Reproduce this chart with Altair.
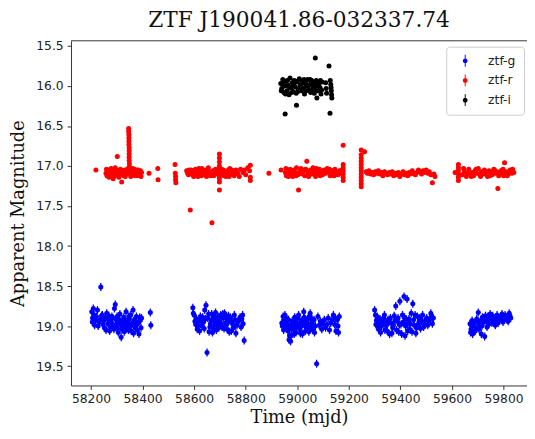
import altair as alt
import pandas as pd

TITLE = "ZTF J190041.86-032337.74"
BANDS = ["ztf-g", "ztf-r", "ztf-i"]
COLORS = ["#0000ff", "#ff0000", "#000000"]
X_TICKS = [58200, 58400, 58600, 58800, 59000, 59200, 59400, 59600, 59800]
Y_TICKS = [15.5, 16.0, 16.5, 17.0, 17.5, 18.0, 18.5, 19.0, 19.5]

# ---- ztf-g ----
G_MJD = [58203, 58206, 58209, 58212, 58218, 58225, 58232, 58238, 58241, 58247, 58252, 58256, 58261, 58266,
         58272, 58277, 58281, 58286, 58291, 58294, 58298, 58303, 58308, 58312, 58317, 58322, 58327, 58331,
         58336, 58340, 58345, 58349, 58354, 58358, 58363, 58367, 58372, 58376, 58381, 58386, 58391, 58396,
         58430, 58432,
         58595, 58600, 58606, 58612, 58618, 58624, 58630, 58636, 58641, 58646, 58650, 58653, 58658, 58663,
         58668, 58673, 58678, 58683, 58688, 58693, 58698, 58703, 58708, 58713, 58718, 58723, 58728, 58733,
         58738, 58744, 58750, 58756, 58762, 58770, 58778, 58785, 58790, 58794,
         58940, 58945, 58950, 58955, 58960, 58964, 58968, 58972, 58976, 58980, 58985, 58990, 58995, 59000,
         59005, 59010, 59015, 59020, 59025, 59030, 59035, 59040, 59045, 59050, 59055, 59060, 59065, 59070,
         59075, 59080, 59090, 59100, 59110, 59120, 59130, 59140, 59145, 59150, 59155, 59160, 59163,
         59300, 59303, 59307, 59312, 59318, 59323, 59330, 59335, 59340, 59346, 59352, 59358, 59364, 59370,
         59376, 59382, 59388, 59393, 59398, 59402, 59408, 59414, 59418, 59422, 59426, 59430, 59436, 59442,
         59448, 59454, 59460, 59466, 59472, 59478, 59486, 59494, 59502, 59510, 59518, 59524, 59528,
         59670, 59674, 59678, 59682, 59690, 59696, 59702, 59708, 59714, 59718, 59724, 59730, 59736, 59742,
         59748, 59755, 59762, 59768, 59775, 59782, 59790, 59798, 59806, 59814, 59822, 59828]
G_MAG = [18.82, 18.90, 18.78, 18.86, 18.93, 18.80, 18.95, 18.51, 18.87, 18.98, 19.02, 18.90, 18.84, 18.97,
         19.06, 18.93, 18.88, 18.99, 18.78, 18.73, 18.92, 19.03, 18.96, 18.85, 19.14, 18.94, 18.89, 19.01,
         18.82, 18.97, 19.05, 18.91, 18.86, 18.99, 18.80, 18.94, 19.02, 18.88, 18.97, 19.10, 18.93, 18.90,
         18.83, 18.99,
         18.77, 18.86, 18.98, 19.04, 18.93, 18.88, 19.00, 18.95, 18.80, 18.74, 19.33, 18.90, 19.07, 18.97,
         18.85, 19.02, 18.92, 18.83, 18.99, 18.88, 18.95, 18.86, 19.01, 18.90, 18.84, 18.96, 19.04, 18.87,
         18.93, 19.06, 18.98, 18.86, 19.09, 18.94, 18.89, 18.91, 18.97, 19.18,
         18.96, 18.88, 18.93, 19.01, 18.91, 19.06, 19.17, 18.99, 19.12, 18.94, 19.03, 18.89, 19.08, 18.97,
         18.86, 19.04, 18.93, 19.10, 18.82, 18.99, 19.02, 18.91, 19.07, 18.84, 18.96, 19.05, 18.92, 19.00,
         19.47, 18.88, 18.94, 18.97, 19.02, 18.90, 18.96, 18.86, 18.98, 19.06, 18.92, 19.08, 18.88,
         18.80, 18.86, 18.93, 19.00, 18.95, 19.08, 18.97, 18.90, 19.05, 18.99, 18.92, 19.10, 18.96, 19.02,
         18.87, 18.75, 18.94, 19.07, 18.69, 18.98, 18.86, 18.63, 19.12, 18.91, 18.66, 18.96, 19.04, 18.84,
         18.72, 18.99, 19.09, 18.88, 18.95, 19.03, 18.86, 18.98, 18.90, 18.94, 18.84, 18.97, 18.90,
         18.97, 19.04, 18.93, 19.00, 19.06, 18.91, 18.83, 18.98, 19.10, 18.89, 18.95, 18.87, 19.01, 18.92,
         18.85, 18.96, 18.90, 18.99, 18.86, 18.93, 18.88, 18.95, 18.86, 18.92, 18.84, 18.90]
G_MJD_2 = [58205, 58214, 58221, 58228, 58235, 58244, 58250, 58258, 58264, 58269, 58275, 58279, 58284, 58289,
           58296, 58301, 58306, 58310, 58315, 58320, 58325, 58329, 58333, 58338, 58343, 58347, 58352, 58356,
           58361, 58365, 58370, 58374, 58379, 58384, 58389, 58394,
           58597, 58603, 58609, 58615, 58621, 58627, 58633, 58639, 58644, 58656, 58661, 58666, 58671, 58676,
           58681, 58686, 58691, 58696, 58701, 58706, 58711, 58716, 58721, 58726, 58731, 58736, 58741, 58747,
           58753, 58759, 58766, 58774, 58782, 58788,
           58942, 58947, 58952, 58957, 58962, 58966, 58970, 58974, 58978, 58983, 58988, 58992, 58997, 59002,
           59007, 59012, 59017, 59022, 59027, 59032, 59037, 59042, 59047, 59052, 59057, 59062, 59067, 59085,
           59095, 59105, 59115, 59125, 59135, 59148, 59158,
           59305, 59310, 59315, 59321, 59327, 59333, 59338, 59343, 59349, 59355, 59361, 59367, 59373, 59379,
           59385, 59391, 59396, 59405, 59411, 59416, 59420, 59428, 59433, 59439, 59445, 59451, 59457, 59463,
           59469, 59475, 59482, 59490, 59498, 59506, 59514, 59521,
           59672, 59676, 59680, 59686, 59693, 59699, 59705, 59711, 59716, 59721, 59727, 59733, 59739, 59745,
           59751, 59758, 59765, 59771, 59779, 59786, 59794, 59802, 59810, 59818, 59825]
G_MAG_2 = [18.95, 18.99, 18.88, 19.00, 18.92, 18.86, 18.93, 19.05, 18.91, 18.87, 19.01, 18.97, 18.90, 19.04,
           18.98, 18.88, 19.08, 18.92, 18.98, 19.04, 18.97, 19.07, 18.92, 19.03, 18.95, 18.88, 19.00, 19.06,
           18.96, 19.09, 18.91, 18.99, 19.05, 18.95, 18.89, 19.02,
           18.84, 18.94, 18.91, 18.99, 19.06, 18.94, 18.89, 19.03, 18.91, 18.85, 19.01, 18.93, 19.08, 18.88,
           18.97, 19.05, 18.93, 19.02, 18.91, 18.97, 18.85, 19.03, 18.90, 18.98, 18.93, 19.07, 18.89, 18.95,
           19.02, 18.92, 18.99, 18.93, 19.01, 18.86,
           19.00, 19.05, 18.86, 18.97, 19.03, 18.92, 19.12, 19.19, 19.04, 18.98, 19.10, 18.95, 19.01, 18.90,
           18.98, 19.09, 19.00, 18.95, 18.89, 19.06, 18.93, 18.98, 18.88, 19.02, 18.91, 18.99, 19.08, 18.99,
           19.04, 18.92, 18.98, 19.05, 18.92, 18.90, 19.00,
           18.98, 18.88, 19.04, 18.91, 19.00, 18.94, 18.86, 18.97, 19.06, 18.95, 18.90, 19.09, 18.99, 18.93,
           19.05, 18.90, 18.98, 19.10, 18.95, 18.89, 19.00, 19.06, 18.91, 18.97, 19.07, 18.92, 18.86, 19.02,
           18.98, 18.90, 18.94, 19.01, 18.92, 18.99, 18.91, 18.88,
           19.08, 18.99, 19.10, 18.96, 19.02, 18.95, 19.04, 18.93, 19.00, 18.90, 19.13, 18.94, 18.88, 18.97,
           18.91, 18.87, 18.94, 18.89, 18.96, 18.90, 18.85, 18.92, 18.89, 18.94, 18.87]
G_ERR = 0.05

# ---- ztf-r ----
R_MJD = [58219,
         58258, 58262, 58266, 58270, 58274, 58278, 58282, 58286, 58290, 58294, 58298, 58302, 58306, 58310,
         58314, 58319, 58323, 58327, 58331, 58335, 58339, 58343,
         58346, 58346, 58347, 58347, 58347, 58347, 58348, 58348, 58348, 58348, 58348, 58349, 58349, 58349, 58349,
         58352, 58356, 58360, 58364, 58368, 58372, 58376, 58380, 58384, 58388, 58392, 58396,
         58425, 58459, 58460, 58526, 58527, 58528, 58528, 58529,
         58571, 58575, 58580, 58585, 58590, 58595, 58600, 58605, 58610, 58615, 58620, 58625, 58630, 58635,
         58640, 58645, 58650, 58655, 58660, 58665, 58669, 58673, 58678, 58683, 58688,
         58698, 58698, 58698, 58698, 58698, 58698, 58698, 58698, 58698, 58698,
         58703, 58708, 58713, 58718, 58723, 58728, 58733, 58738, 58743, 58748, 58755, 58762, 58770, 58780,
         58790, 58800, 58808, 58815, 58818, 58818, 58818,
         58890, 58937,
         58954, 58958, 58963, 58968, 58972, 58977, 58982, 58987, 58992, 58997, 59002, 59005, 59009, 59014,
         59019, 59024, 59029, 59033, 59037, 59041, 59046, 59051, 59056, 59061, 59066, 59071, 59076, 59081,
         59086, 59092, 59098, 59104, 59110, 59116, 59122, 59128, 59134, 59140, 59146, 59152, 59158, 59164,
         59170, 59174,
         59178, 59178, 59178, 59178, 59178, 59178, 59178,
         59248, 59248, 59248, 59248, 59248, 59248, 59248, 59248, 59248, 59248, 59248, 59248, 59261,
         59267, 59272, 59278, 59284, 59290, 59296, 59302, 59308, 59314, 59320, 59326, 59332, 59338, 59344,
         59350, 59356, 59362, 59368, 59374, 59380, 59386, 59392, 59398, 59404, 59410, 59416, 59422, 59428,
         59434, 59440, 59446, 59452, 59458, 59464, 59470, 59476, 59482, 59488, 59494, 59500, 59506, 59512,
         59518, 59524, 59530, 59534,
         59612, 59625, 59625, 59625, 59625, 59625, 59625,
         59640, 59648, 59656, 59665, 59672, 59678, 59684, 59690, 59696, 59702, 59708, 59714, 59720, 59726,
         59732, 59738, 59744, 59750, 59756, 59762, 59768, 59774, 59778, 59784, 59790, 59796, 59800, 59804,
         59810, 59818, 59825, 59832, 59840]
R_MAG = [17.05,
         17.09, 17.12, 17.05, 17.14, 17.08, 17.03, 17.10, 17.16, 17.07, 17.02, 17.11, 16.88, 17.06, 17.09,
         17.04, 17.20, 17.08, 17.12, 17.05, 17.10, 17.07, 17.03,
         16.53, 16.57, 16.61, 16.65, 16.69, 16.73, 16.77, 16.81, 16.85, 16.89, 16.93, 16.97, 17.01, 17.05, 17.09,
         17.08, 17.11, 17.06, 17.09, 17.04, 17.10, 17.07, 17.12, 17.05, 17.09, 17.06, 17.08,
         17.09, 17.03, 17.17, 16.98, 17.09, 17.13, 17.17, 17.21,
         17.06, 17.09, 17.05, 17.55, 17.10, 17.07, 17.12, 17.04, 17.08, 17.13, 17.06, 17.10, 17.03, 17.08,
         17.11, 17.05, 17.09, 17.02, 17.07, 17.12, 17.71, 17.06, 17.09, 17.04, 17.10,
         16.85, 16.90, 16.95, 17.00, 17.04, 17.08, 17.12, 17.16, 17.20, 17.30,
         17.07, 17.11, 17.05, 17.09, 17.13, 17.06, 17.08, 17.03, 17.10, 17.07, 17.12, 17.05, 17.09, 17.04,
         17.08, 17.11, 17.02, 17.06, 16.99, 17.14, 17.18,
         17.09, 17.05,
         17.08, 17.12, 17.06, 17.10, 17.04, 17.09, 17.13, 17.05, 17.08, 17.02, 17.11, 17.30, 17.07, 17.03,
         17.10, 17.06, 17.12, 17.04, 16.94, 17.08, 17.11, 17.05, 17.09, 17.02, 17.07, 17.13, 17.06, 17.10,
         17.04, 17.08, 17.11, 17.05, 17.09, 17.03, 17.07, 17.12, 17.06, 17.09, 17.04, 17.08, 17.11, 17.06,
         17.09, 17.05,
         16.74, 16.98, 17.02, 17.06, 17.10, 17.14, 17.18,
         16.80, 16.86, 16.90, 16.94, 16.98, 17.02, 17.06, 17.10, 17.14, 17.18, 17.22, 17.26, 16.82,
         17.07, 17.09, 17.06, 17.10, 17.08, 17.11, 17.07, 17.09, 17.06, 17.10, 17.08, 17.12, 17.07, 17.09,
         17.11, 17.08, 17.10, 17.07, 17.12, 17.09, 17.11, 17.08, 17.13, 17.10, 17.07, 17.11, 17.09, 17.12,
         17.08, 17.10, 17.06, 17.09, 17.11, 17.08, 17.05, 17.07, 17.10, 17.06, 17.08, 17.05, 17.09, 17.07,
         17.11, 17.21, 17.10, 17.13,
         17.08, 16.98, 17.02, 17.06, 17.10, 17.14, 17.18,
         17.11, 17.07, 17.13, 17.04, 17.10, 17.08, 17.12, 17.06, 17.09, 17.03, 17.11, 17.07, 17.10, 17.05,
         17.09, 17.13, 17.06, 17.08, 17.11, 17.04, 17.09, 17.07, 17.28, 17.10, 17.06, 17.09, 17.12, 16.96,
         17.07, 17.10, 17.05, 17.09, 17.08]
R_MJD_2 = [58260, 58268, 58276, 58284, 58292, 58300, 58308, 58316, 58325, 58333, 58341, 58354, 58362, 58370,
           58378, 58386, 58394,
           58578, 58588, 58598, 58608, 58618, 58628, 58638, 58648, 58658, 58676, 58686, 58706, 58716, 58726,
           58736, 58746, 58758, 58775, 58795,
           58956, 58966, 58980, 58995, 59012, 59027, 59044, 59058, 59074, 59089, 59107, 59125, 59143, 59161,
           59645, 59660, 59675, 59693, 59711, 59729, 59747, 59765, 59781, 59798, 59815, 59835]
R_MAG_2 = [17.04, 17.11, 17.13, 17.06, 17.12, 17.05, 17.14, 17.10, 17.06, 17.13, 17.09, 17.13, 17.03, 17.12,
           17.05, 17.10, 17.13,
           17.11, 17.05, 17.13, 17.09, 17.03, 17.12, 17.06, 17.13, 17.08, 17.12, 17.06, 17.04, 17.12, 17.09,
           17.13, 17.05, 17.10, 17.13, 17.05,
           17.03, 17.13, 17.07, 17.12, 17.09, 17.05, 17.13, 17.10, 17.03, 17.12, 17.08, 17.04, 17.12, 17.09,
           17.03, 17.09, 17.13, 17.04, 17.13, 17.10, 17.12, 17.05, 17.12, 17.04, 17.12, 17.04]
R_ERR = 0.025

# ---- ztf-i ----
I_MJD = [58953, 58997, 59070, 59123, 59127, 59076,
         58936, 58940, 58944, 58948, 58952, 58956, 58960, 58964, 58968, 58972, 58976, 58980, 58984, 58988,
         58992, 58996, 59000, 59004, 59008, 59012, 59016, 59020, 59024, 59028, 59032, 59036, 59040, 59044,
         59048, 59052, 59056, 59060, 59064, 59068, 59072, 59080, 59084, 59088, 59092, 59096,
         59110, 59112, 59114, 59128, 59130, 59131, 59132, 59133, 59134,
         58938, 58946, 58954, 58962, 58970, 58978, 58986, 58994, 59002, 59010, 59018, 59026, 59034, 59042,
         59050, 59058, 59066, 59074, 59082, 59090, 59094]
I_MAG = [16.35, 16.24, 15.65, 15.75, 16.34, 16.15,
         15.97, 16.03, 15.92, 16.08, 16.00, 15.94, 16.06, 15.99, 16.11, 15.90, 16.02, 15.96, 16.07, 15.93,
         16.01, 16.09, 15.95, 16.04, 15.91, 15.99, 16.06, 15.94, 16.03, 16.10, 15.97, 16.00, 15.92, 16.05,
         15.98, 16.08, 15.93, 16.01, 15.96, 16.04, 15.99, 16.06, 15.97, 16.02, 16.10, 15.95,
         15.96, 16.03, 16.09, 15.93, 15.98, 16.02, 16.06, 16.11, 16.15,
         16.06, 15.98, 16.10, 15.93, 16.02, 16.08, 15.98, 15.94, 16.07, 16.02, 15.97, 15.92, 16.06, 16.00,
         15.92, 16.05, 16.09, 15.93, 16.00, 15.93, 16.05]
I_ERR = 0.02

rows = []
for band, mjds, mags, err in [("ztf-g", G_MJD + G_MJD_2, G_MAG + G_MAG_2, G_ERR),
                              ("ztf-r", R_MJD + R_MJD_2, R_MAG + R_MAG_2, R_ERR),
                              ("ztf-i", I_MJD, I_MAG, I_ERR)]:
    for t, m in zip(mjds, mags):
        rows.append({"band": band, "mjd": t, "mag": m, "lo": m - err, "hi": m + err})
df = pd.DataFrame(rows)

W, H = 463, 350
xscale = alt.Scale(domain=[58122.5, 59891], nice=False, zero=False)
yscale = alt.Scale(domain=[15.435, 19.742], reverse=True, nice=False, zero=False)
cscale = alt.Scale(domain=BANDS, range=COLORS)

xaxis = alt.Axis(values=X_TICKS, format="d", title="Time (mjd)", grid=False,
                 labelFont="DejaVu Sans", labelFontSize=12.5, labelColor="#222", labelPadding=3,
                 tickSize=4, tickColor="#333", domainColor="#333",
                 titleFont="DejaVu Serif", titleFontSize=18, titleFontWeight="normal",
                 titleColor="#111", titlePadding=4, labelFlush=False)
yaxis = alt.Axis(values=Y_TICKS, format=".1f", title="Apparent Magnitude", grid=False,
                 labelFont="DejaVu Sans", labelFontSize=12.5, labelColor="#222", labelPadding=4,
                 tickSize=4, tickColor="#333", domainColor="#333",
                 titleFont="DejaVu Serif", titleFontSize=18, titleFontWeight="normal",
                 titleColor="#111", titlePadding=8)

SYMBOL = ("M-0.08,-1H0.08V1H-0.08Z"
          "M-0.4,0A0.4,0.4,0,1,1,0.4,0A0.4,0.4,0,1,1,-0.4,0Z")
legend = alt.Legend(title=None, orient="none", legendX=381, legendY=6,
                    symbolType=SYMBOL, symbolSize=144, symbolStrokeWidth=0, symbolOffset=5,
                    labelFont="DejaVu Sans", labelFontSize=12.5, labelColor="#222",
                    labelOffset=17, rowPadding=7, padding=8,
                    fillColor="white", strokeColor="#cccccc", cornerRadius=3)

base = alt.Chart(df)
errs = base.mark_rule(strokeWidth=1.3).encode(
    x=alt.X("mjd:Q", scale=xscale, axis=xaxis),
    y=alt.Y("lo:Q", scale=yscale, axis=yaxis),
    y2="hi:Q",
    color=alt.Color("band:N", scale=cscale, legend=legend),
)
pts = base.mark_circle(size=26, opacity=1).encode(
    x=alt.X("mjd:Q", scale=xscale),
    y=alt.Y("mag:Q", scale=yscale),
    color=alt.Color("band:N", scale=cscale, legend=legend),
)
top = alt.Chart(pd.DataFrame({"k": [0]})).mark_rule(color="#333", strokeWidth=1).encode(
    x=alt.value(0), x2=alt.value(W), y=alt.value(0)
)

chart = alt.layer(errs, pts, top).properties(
    width=W, height=H,
    title=alt.TitleParams(TITLE, font="DejaVu Serif", fontSize=22, fontWeight="normal",
                          color="#111", offset=8, anchor="middle"),
    autosize=alt.AutoSizeParams(type="none"),
    padding={"left": 64, "top": 30, "right": 0, "bottom": 49},
    background="white",
).configure_view(stroke=None)

chart.save("out.html", embed_options={"renderer": "svg", "actions": False})
